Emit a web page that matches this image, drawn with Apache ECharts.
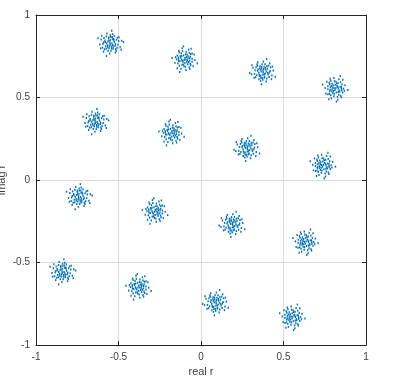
<!DOCTYPE html>
<html>
<head>
<meta charset="utf-8">
<script src="https://cdn.jsdelivr.net/npm/echarts@6/dist/echarts.min.js"></script>
<style>html,body{margin:0;padding:0;background:#fff}#c{width:394px;height:382px}</style>
</head>
<body>
<div id="c"></div>
<script>
// Cluster centres (real, imag)
var centersX = [-0.55, -0.10, 0.375, 0.815, -0.64, -0.18, 0.28, 0.74, -0.74, -0.28, 0.19, 0.635, -0.84, -0.38, 0.09, 0.555];
var centersY = [0.83, 0.73, 0.655, 0.555, 0.355, 0.285, 0.19, 0.09, -0.10, -0.19, -0.27, -0.375, -0.555, -0.65, -0.745, -0.83];
// Estimated spread of samples around a centre (thousandths)
var spreadX = [-14,29,3,-44,20,-7,51,-24,10,-35,36,0,-17,60,-55,14,-3,25,-30,7,44,-10,17,-47,32,-20,69,-63,5,-2,22,-38,41,-13,12,-28,53,-8,31,-52,15,-22,38,-5,24,-41,8,-32,47,-15,1,-58,18,-9,66,-25,13,-40,33,-1,80,-75,9,-23];
var spreadY = [9,-16,36,-6,25,-31,12,40,-3,-38,-46,17,-14,-25,21,54,-63,5,7,-21,32,28,-35,-28,-7,58,14,-9,-46,2,17,31,-29,-46,37,-20,35,14,-58,44,-12,-2,20,-17,44,-52,-32,15,-10,-25,48,-32,-22,35,-40,-35,23,3,-37,-9,6,29,75,-78];
var xTicks = [-1, -0.5, 0, 0.5, 1];
var yTicks = [-1, -0.5, 0, 0.5, 1];

var pts = [];
for (var k = 0; k < centersX.length; k++) {
  for (var i = 0; i < spreadX.length; i++) {
    var dx = spreadX[i] / 1000, dy = spreadY[i] / 1000, ox, oy;
    switch (k % 4) {
      case 0: ox = dx; oy = dy; break;
      case 1: ox = -dy; oy = dx; break;
      case 2: ox = -dx; oy = -dy; break;
      default: ox = dy; oy = -dx;
    }
    pts.push([centersX[k] + ox, centersY[k] + oy]);
  }
}

var axisCol = '#262626';
var lab = {color: '#404040', fontSize: 10, fontFamily: 'Liberation Sans, Arial, sans-serif'};
function mkX(pos, show) {
  return {
    type: 'value', position: pos, min: xTicks[0], max: xTicks[xTicks.length - 1], interval: 0.5,
    name: show ? 'real r' : '', nameLocation: 'middle', nameGap: 21,
    nameTextStyle: {color: '#404040', fontSize: 11, fontFamily: 'Liberation Sans, Arial, sans-serif'},
    axisLine: {show: true, onZero: false, lineStyle: {color: axisCol, width: 1}},
    axisTick: {show: true, inside: true, length: 4, lineStyle: {color: axisCol}},
    axisLabel: Object.assign({show: show, margin: 7, hideOverlap: false, showMinLabel: true, showMaxLabel: true, formatter: function (v) { return String(v); }}, lab),
    splitLine: {show: show, lineStyle: {color: '#dcdcdc', width: 1}}
  };
}
function mkY(pos, show) {
  return {
    type: 'value', position: pos, min: yTicks[0], max: yTicks[yTicks.length - 1], interval: 0.5,
    name: show ? 'imag r' : '', nameLocation: 'middle', nameGap: 29, nameMoveOverlap: false,
    nameTextStyle: {color: '#404040', fontSize: 11, fontFamily: 'Liberation Sans, Arial, sans-serif'},
    axisLine: {show: true, onZero: false, lineStyle: {color: axisCol, width: 1}},
    axisTick: {show: true, inside: true, length: 4, lineStyle: {color: axisCol}},
    axisLabel: Object.assign({show: show, margin: 6, hideOverlap: false, showMinLabel: true, showMaxLabel: true, formatter: function (v) { return String(v); }}, lab),
    splitLine: {show: show, lineStyle: {color: '#dcdcdc', width: 1}}
  };
}

var chart = echarts.init(document.getElementById('c'), null, {renderer: 'canvas'});
chart.setOption({
  animation: false,
  backgroundColor: '#ffffff',
  grid: {left: 36, top: 15, width: 330, height: 330, containLabel: false, outerBoundsMode: 'none'},
  xAxis: [mkX('bottom', true), mkX('top', false)],
  yAxis: [mkY('left', true), mkY('right', false)],
  series: [{
    type: 'scatter',
    data: pts,
    symbol: 'rect',
    symbolSize: [1.4, 2],
    itemStyle: {color: '#0072BD', opacity: 1},
    silent: true
  }]
});
</script>
</body>
</html>
